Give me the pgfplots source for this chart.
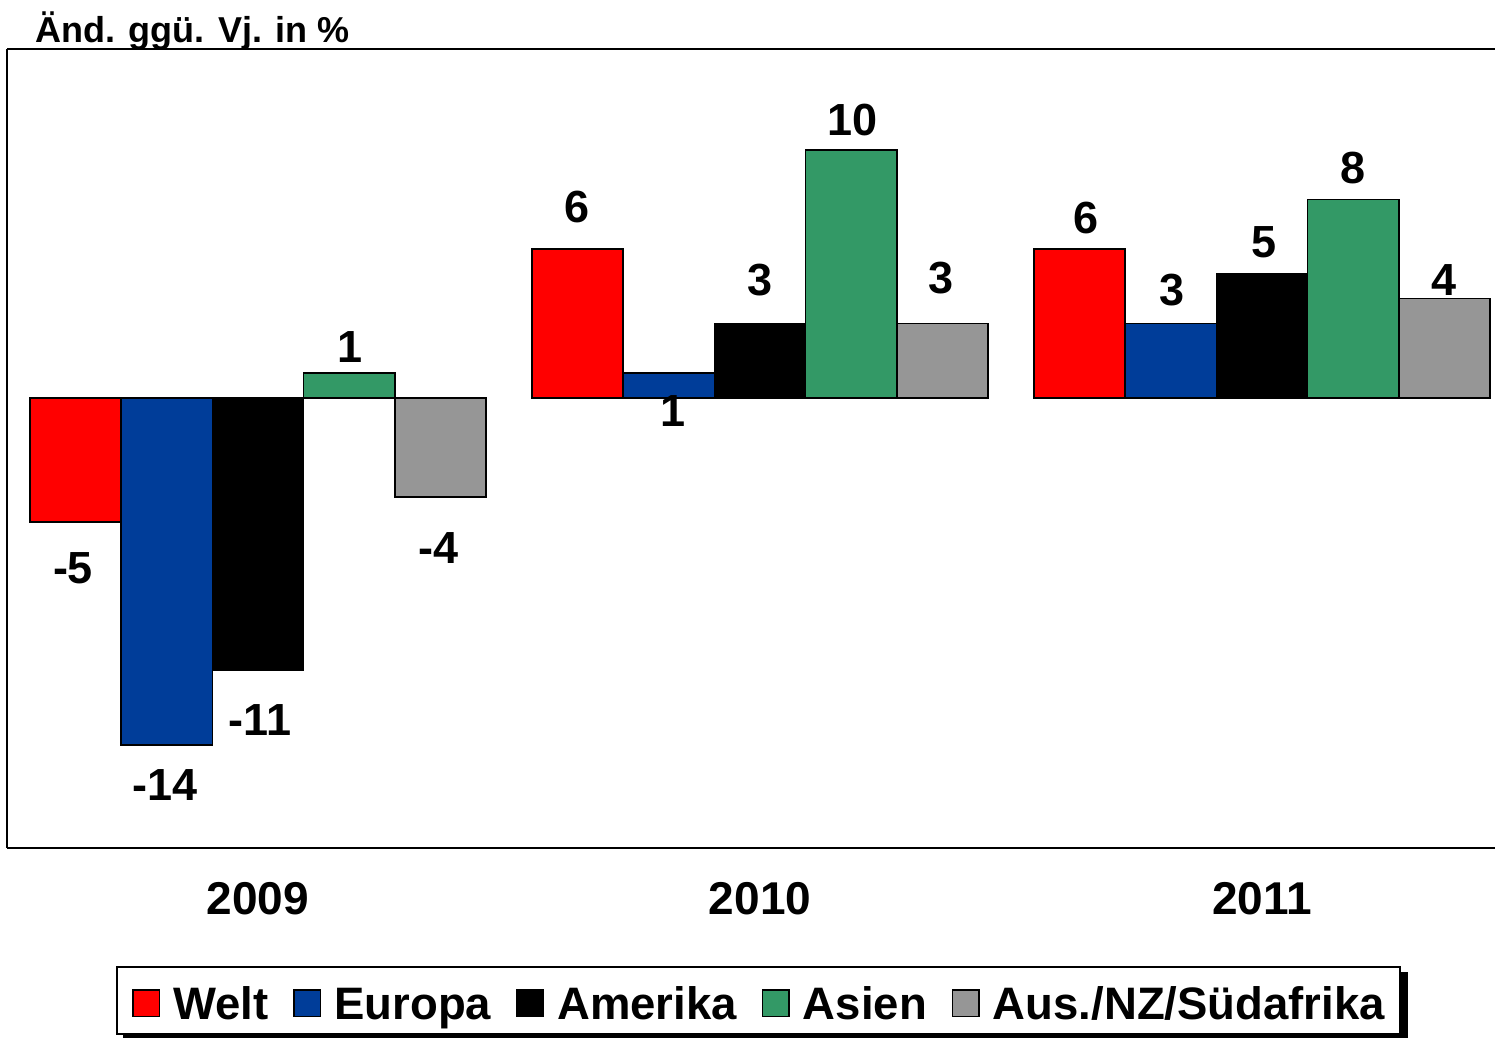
\documentclass[border=0pt]{standalone}
\usepackage{fontspec}
\setmainfont{Liberation Sans}
\usepackage{pgfplots}
\pgfplotsset{compat=1.18}
\usepackage{pgfplotstable}
\pgfdeclarelayer{background}
\pgfsetlayers{background,main}
\definecolor{cWelt}{RGB}{255,0,0}
\definecolor{cEuropa}{RGB}{0,61,153}
\definecolor{cAmerika}{RGB}{0,0,0}
\definecolor{cAsien}{RGB}{51,153,102}
\definecolor{cAus}{RGB}{150,150,150}

\pgfplotstableread{
x y
-0.3634 -5
0.6366 6
1.6366 6
}\welt
\pgfplotstableread{
x y
-0.1817 -14
0.8183 1
1.8183 3
}\europa
\pgfplotstableread{
x y
0 -11
1 3
2 5
}\amerika
\pgfplotstableread{
x y
0.1817 1
1.1817 10
2.1817 8
}\asien
\pgfplotstableread{
x y
0.3634 -4
1.3634 3
2.3634 4
}\aus
\pgfplotstableread{
x y lab
-0.3685 -6.85 -5
-0.1853 -15.6 -14
0.004 -12.98 -11
0.1833 2.056 1
0.3586 -6.048 -4
0.6355 7.70 6
0.8267 -0.52 1
1.0 4.758 3
1.185 11.21 10
1.3606 4.839 3
1.649 7.258 6
1.821 4.355 3
2.004 6.29 5
2.181 9.27 8
2.3625 4.758 4
}\labels

\begin{document}
\begin{tikzpicture}
\begin{axis}[
  scale only axis, width=744pt, height=399.5pt,
  xmin=-0.5, xmax=2.464, ymin=-18.15, ymax=14.07,
  axis x line*=box, axis y line*=left,
  axis line style={line width=1pt, black},
  xtick={0,1,2}, xticklabels={2009,2010,2011},
  ytick=\empty, major tick length=0pt,
  xticklabel style={font=\bfseries\fontsize{23}{27}\selectfont, inner sep=0pt, anchor=north, yshift=-17pt},
  title={Änd. ggü. Vj. in \%},
  title style={at={(0,1)}, anchor=base west, xshift=14pt, yshift=-2.7pt, inner sep=0pt, font=\bfseries\fontsize{18}{22}\selectfont},
  legend columns=-1,
  legend style={name=leg, at={(0.505,-0.1477)}, anchor=north, draw=black, line width=0.75pt, fill=white,
    font=\bfseries\fontsize{22.75}{27}\selectfont,
    inner xsep=7.5pt, inner ysep=6.75pt,
    nodes={inner sep=0pt, text height=19.5pt, text depth=0.5pt},
    /tikz/every odd column/.append style={column sep=6.5pt},
    /tikz/every even column/.append style={column sep=12.5pt}},
  mybar/.style={ybar, bar width=0.1817, bar shift=0pt, draw=black, line width=0.75pt, fill=#1,
    legend image code/.code={\path[draw=none, fill=none] (0pt,-8.15pt) -- (0pt,8.15pt);\draw[##1, draw=black, line width=0.75pt] (0pt,-8.15pt) rectangle (13.3pt,5.15pt);}},
]
\addplot[mybar=cWelt] table[x=x,y=y] {\welt};
\addplot[mybar=cEuropa] table[x=x,y=y] {\europa};
\addplot[mybar=cAmerika] table[x=x,y=y] {\amerika};
\addplot[mybar=cAsien] table[x=x,y=y] {\asien};
\addplot[mybar=cAus] table[x=x,y=y] {\aus};
\addplot[draw=none, forget plot, nodes near coords, point meta=explicit symbolic,
  nodes near coords align=center,
  every node near coord/.append style={font=\bfseries\fontsize{22.5}{27}\selectfont, inner sep=0pt, text=black}]
  table[x=x, y=y, meta=lab] {\labels};
\legend{Welt, Europa, Amerika, Asien, Aus./NZ/Südafrika}
\end{axis}
\begin{pgfonlayer}{background}
\fill[black] ([xshift=3.5pt,yshift=-3pt]leg.south west) rectangle ([xshift=3.5pt,yshift=-3pt]leg.north east);
\end{pgfonlayer}
\pgfresetboundingbox
\useasboundingbox ([xshift=-3.5pt,yshift=-95pt]current axis.south west) rectangle ([yshift=24.5pt]current axis.north east);
\end{tikzpicture}
\end{document}
